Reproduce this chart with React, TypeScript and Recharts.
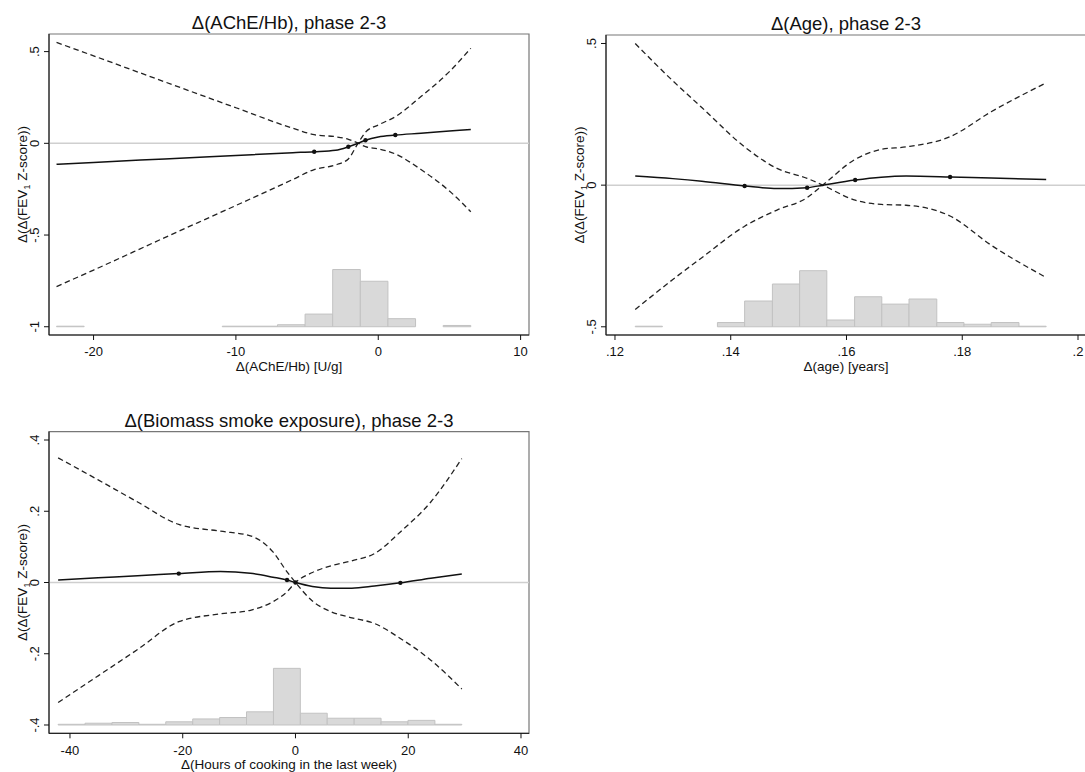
import React from 'react'
import {
  ComposedChart,
  Line,
  XAxis,
  YAxis,
  ReferenceArea,
  ReferenceLine
} from 'recharts'

const FONT = '"Liberation Sans", Arial, Helvetica, sans-serif'

// --- AChE/Hb panel ---
const acheX = [-22.6, -20, -15, -10, -6, -4.5, -3, -2.1, -1.5, -0.9, 0, 1.2, 3, 5, 6.5]
const acheFit = [-0.114, -0.104, -0.085, -0.066, -0.051, -0.046, -0.038, -0.019, -0.002, 0.017, 0.035, 0.045, 0.055, 0.067, 0.076]
const acheCiA = [0.55, 0.477, 0.335, 0.194, 0.082, 0.047, 0.036, 0.022, 0.004, -0.018, -0.03, -0.058, -0.143, -0.26, -0.373]
const acheCiB = [-0.781, -0.691, -0.514, -0.339, -0.197, -0.143, -0.118, -0.085, -0.01, 0.06, 0.1, 0.145, 0.255, 0.391, 0.518]
const acheKnotX = [-4.5, -2.1, -0.9, 1.2]
const acheKnotY = [-0.046, -0.019, 0.017, 0.045]
const acheBinEdges = [-22.6, -20.66, -18.72, -16.78, -14.84, -12.9, -10.96, -9.02, -7.08, -5.14, -3.2, -1.26, 0.68, 2.62, 4.56, 6.5]
const acheBinTops = [-0.997, null, null, null, null, null, -0.997, -0.997, -0.989, -0.931, -0.688, -0.752, -0.956, null, -0.993]
const acheXTicks = [-20, -10, 0, 10]
const acheYTicks = [-1, -0.5, 0, 0.5]

// --- Age panel ---
const ageX = [0.1235, 0.13, 0.135, 0.1424, 0.148, 0.1532, 0.1559, 0.1615, 0.166, 0.1703, 0.1779, 0.185, 0.1945]
const ageFit = [0.032, 0.023, 0.014, -0.003, -0.012, -0.009, 0.0, 0.018, 0.028, 0.032, 0.029, 0.025, 0.02]
const ageCiA = [0.5, 0.368, 0.274, 0.135, 0.059, 0.024, 0.0, -0.053, -0.068, -0.071, -0.109, -0.212, -0.326]
const ageCiB = [-0.439, -0.333, -0.256, -0.145, -0.088, -0.044, 0.0, 0.091, 0.126, 0.135, 0.171, 0.259, 0.361]
const ageKnotX = [0.1424, 0.1532, 0.1615, 0.1779]
const ageKnotY = [-0.003, -0.009, 0.018, 0.029]
const ageBinEdges = [0.1235, 0.1282, 0.133, 0.1377, 0.1424, 0.1472, 0.1519, 0.1566, 0.1614, 0.1661, 0.1708, 0.1756, 0.1803, 0.185, 0.1898, 0.1945]
const ageBinTops = [-0.498, null, null, -0.485, -0.409, -0.349, -0.302, -0.476, -0.394, -0.42, -0.402, -0.485, -0.491, -0.485, -0.498]
const ageXTicks = [0.12, 0.14, 0.16, 0.18, 0.2]
const ageYTicks = [-0.5, 0, 0.5]

// --- Biomass panel ---
const bioX = [-42.1, -35, -28, -20.7, -13.3, -8, -4, -1.5, 0, 3, 6.3, 10, 14, 18.6, 24, 29.5]
const bioFit = [0.007, 0.013, 0.019, 0.025, 0.031, 0.026, 0.015, 0.007, 0.0, -0.011, -0.016, -0.016, -0.01, -0.001, 0.012, 0.024]
const bioCiA = [0.35, 0.288, 0.226, 0.163, 0.144, 0.131, 0.086, 0.03, 0.0, -0.052, -0.082, -0.099, -0.115, -0.157, -0.218, -0.299]
const bioCiB = [-0.337, -0.262, -0.188, -0.11, -0.088, -0.078, -0.054, -0.026, 0.0, 0.028, 0.047, 0.061, 0.081, 0.142, 0.226, 0.348]
const bioKnotX = [-20.7, -1.5, 0, 18.6]
const bioKnotY = [0.025, 0.007, 0.0, -0.001]
const bioBinEdges = [-42.1, -37.33, -32.55, -27.78, -23.01, -18.23, -13.46, -8.69, -3.91, 0.86, 5.63, 10.41, 15.18, 19.95, 24.73, 29.5]
const bioBinTops = [-0.398, -0.395, -0.393, -0.398, -0.391, -0.383, -0.379, -0.363, -0.241, -0.367, -0.381, -0.381, -0.391, -0.387, -0.398]
const bioXTicks = [-40, -20, 0, 20, 40]
const bioYTicks = [-0.4, -0.2, 0, 0.2, 0.4]

// stata style numbers: .5, -.2
const fmt = (v: number) => String(v).replace('0.', '.')

const YTick = (props: any) => {
  const { x, y, payload } = props
  return (
    <text x={x} y={y} transform={`rotate(-90 ${x} ${y})`} textAnchor='middle' fontSize={13} fill='#111'>
      {fmt(payload.value)}
    </text>
  )
}

const YTitle = (props: any) => {
  const vb = props.viewBox || { x: 0, y: 0, width: 0, height: 0 }
  const x = vb.x + vb.width - 22
  const y = vb.y + vb.height / 2
  return (
    <text x={x} y={y} transform={`rotate(-90 ${x} ${y})`} textAnchor='middle' fontSize={13.5} fill='#111'>
      Δ(Δ(FEV<tspan fontSize={9} dy={2.5}>1</tspan>
      <tspan dy={-2.5}> Z-score))</tspan>
    </text>
  )
}

const XTitle = (props: any) => {
  const vb = props.viewBox || { x: 0, y: 0, width: 0, height: 0 }
  return (
    <text x={vb.x + vb.width / 2} y={vb.y + 35.5} textAnchor='middle' fontSize={13.5} fill='#111'>
      {props.text}
    </text>
  )
}

const TopTitle = (props: any) => {
  const vb = props.viewBox || { x: 0, y: 0, width: 0, height: 0 }
  return (
    <text x={vb.x + vb.width / 2} y={vb.y + vb.height - 5} textAnchor='middle' fontSize={18.5} fill='#111'>
      {props.text}
    </text>
  )
}

type PanelProps = {
  title: string
  xTitle: string
  xs: number[]
  fit: number[]
  ciA: number[]
  ciB: number[]
  knotX: number[]
  knotY: number[]
  binEdges: number[]
  binTops: (number | null)[]
  base: number
  xDomain: [number, number]
  yDomain: [number, number]
  xTicks: number[]
  yTicks: number[]
  left: number
  top: number
  width: number
  height: number
  axisW: number
  topH: number
  bottomH: number
  rightM: number
}

function Panel(p: PanelProps) {
  const rows = p.xs.map((x, i) => ({ x, fit: p.fit[i], a: p.ciA[i], b: p.ciB[i] }))
  const knots = p.knotX.map((x, i) => ({ x, fit: p.knotY[i] }))
  return (
    <div style={{ position: 'absolute', left: p.left, top: p.top }}>
      <ComposedChart
        width={p.width}
        height={p.height}
        margin={{ top: 0, right: p.rightM, bottom: 0, left: 0 }}
      >
        <XAxis
          xAxisId='top'
          orientation='top'
          type='number'
          dataKey='x'
          domain={p.xDomain}
          allowDataOverflow
          height={p.topH}
          tick={false}
          tickLine={false}
          axisLine={false}
          label={<TopTitle text={p.title} />}
        />
        <XAxis
          type='number'
          dataKey='x'
          domain={p.xDomain}
          ticks={p.xTicks}
          allowDataOverflow
          height={p.bottomH}
          tickSize={5}
          tickMargin={7}
          tickFormatter={fmt}
          tick={{ fontSize: 13, fill: '#111' }}
          stroke='#111'
          label={<XTitle text={p.xTitle} />}
        />
        <YAxis
          type='number'
          domain={p.yDomain}
          ticks={p.yTicks}
          allowDataOverflow
          width={p.axisW}
          tickSize={5}
          tickMargin={5}
          tick={<YTick />}
          stroke='#111'
          label={<YTitle />}
        />
        <ReferenceArea
          x1={p.xDomain[0]}
          x2={p.xDomain[1]}
          y1={p.yDomain[0]}
          y2={p.yDomain[1]}
          fill='none'
          stroke='#777'
          strokeWidth={1.2}
        />
        {p.binTops.map((t, i) =>
          t === null ? null : (
            <ReferenceArea
              key={'bin' + i}
              x1={p.binEdges[i]}
              x2={p.binEdges[i + 1]}
              y1={p.base}
              y2={t}
              fill='#d9d9d9'
              fillOpacity={1}
              stroke='#c2c2c2'
              strokeWidth={1}
            />
          )
        )}
        <ReferenceLine y={0} stroke='#cfcfcf' strokeWidth={1.5} />
        <Line
          data={rows}
          dataKey='a'
          type='monotone'
          stroke='#222'
          strokeWidth={1.3}
          strokeDasharray='5.5 3.5'
          dot={false}
          activeDot={false}
          isAnimationActive={false}
        />
        <Line
          data={rows}
          dataKey='b'
          type='monotone'
          stroke='#222'
          strokeWidth={1.3}
          strokeDasharray='5.5 3.5'
          dot={false}
          activeDot={false}
          isAnimationActive={false}
        />
        <Line
          data={rows}
          dataKey='fit'
          type='monotone'
          stroke='#111'
          strokeWidth={1.5}
          dot={false}
          activeDot={false}
          isAnimationActive={false}
        />
        <Line
          data={knots}
          dataKey='fit'
          stroke='none'
          dot={{ r: 2.2, fill: '#111', stroke: '#111', strokeWidth: 0 }}
          activeDot={false}
          isAnimationActive={false}
        />
      </ComposedChart>
    </div>
  )
}

export default function App() {
  return (
    <div
      style={{
        position: 'absolute',
        left: 0,
        top: 0,
        width: 1085,
        height: 772,
        overflow: 'hidden',
        background: '#fff',
        fontFamily: FONT
      }}
    >
      <Panel
        title='Δ(AChE/Hb), phase 2-3'
        xTitle='Δ(AChE/Hb) [U/g]'
        xs={acheX}
        fit={acheFit}
        ciA={acheCiA}
        ciB={acheCiB}
        knotX={acheKnotX}
        knotY={acheKnotY}
        binEdges={acheBinEdges}
        binTops={acheBinTops}
        base={-1}
        xDomain={[-23.13, 10.59]}
        yDomain={[-1.045, 0.596]}
        xTicks={acheXTicks}
        yTicks={acheYTicks}
        left={0}
        top={0}
        width={545}
        height={385}
        axisW={49}
        topH={34}
        bottomH={50}
        rightM={16}
      />
      <Panel
        title='Δ(Age), phase 2-3'
        xTitle='Δ(age) [years]'
        xs={ageX}
        fit={ageFit}
        ciA={ageCiA}
        ciB={ageCiB}
        knotX={ageKnotX}
        knotY={ageKnotY}
        binEdges={ageBinEdges}
        binTops={ageBinTops}
        base={-0.5}
        xDomain={[0.11845, 0.20138]}
        yDomain={[-0.529, 0.53]}
        xTicks={ageXTicks}
        yTicks={ageYTicks}
        left={545}
        top={0}
        width={545}
        height={385}
        axisW={61}
        topH={35}
        bottomH={50}
        rightM={4}
      />
      <Panel
        title='Δ(Biomass smoke exposure), phase 2-3'
        xTitle='Δ(Hours of cooking in the last week)'
        xs={bioX}
        fit={bioFit}
        ciA={bioCiA}
        ciB={bioCiB}
        knotX={bioKnotX}
        knotY={bioKnotY}
        binEdges={bioBinEdges}
        binTops={bioBinTops}
        base={-0.4}
        xDomain={[-43.72, 41.42]}
        yDomain={[-0.4233, 0.4233]}
        xTicks={bioXTicks}
        yTicks={bioYTicks}
        left={0}
        top={385}
        width={545}
        height={387}
        axisW={49}
        topH={46.7}
        bottomH={38.7}
        rightM={16}
      />
    </div>
  )
}
